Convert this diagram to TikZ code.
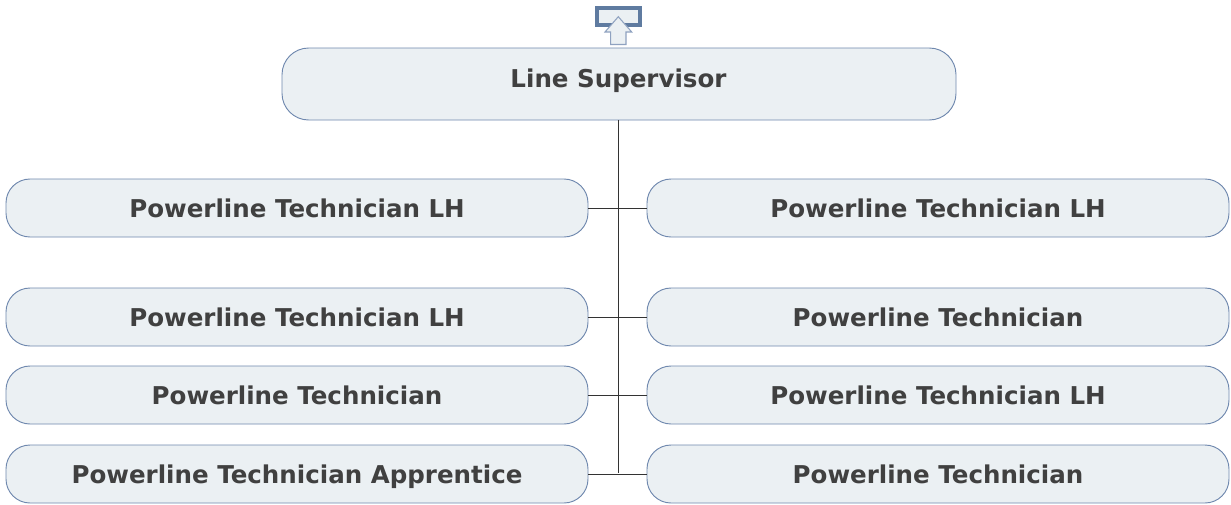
\documentclass[tikz,border=0pt]{standalone}
\usepackage{fontspec}
\setmainfont{DejaVu Sans}
\usetikzlibrary{positioning}
\definecolor{boxfill}{HTML}{EBF0F3}
\definecolor{boxline}{HTML}{6F88AE}
\definecolor{iconline}{HTML}{5F7BA0}
\definecolor{arrowline}{HTML}{8FA2C0}
\definecolor{labeltext}{HTML}{404040}
\tikzset{
  rolebox/.style={draw=boxline, fill=boxfill, line width=0.7pt, rounded corners=18pt,
    minimum width=436.5pt, minimum height=43.5pt, inner sep=0pt, text=labeltext,
    text height=15.5pt, text depth=1.5pt,
    font=\fontsize{18.4}{20}\selectfont\bfseries},
  link/.style={draw=black!80, line width=0.6pt}
}
\begin{document}
\begin{tikzpicture}[x=0.75pt,y=-0.75pt]
\useasboundingbox (0,0) rectangle (1231,504);

% marker above the top box
\draw[iconline, line width=2.7pt, fill=boxfill] (597,8) rectangle (640,25);
\draw[arrowline, line width=0.8pt, fill=boxfill] (618.3,16.7) -- (631.7,32) -- (626,32) -- (626,44.5)
  -- (610.7,44.5) -- (610.7,32) -- (605,32) -- cycle;

% top box
\node[rolebox, minimum width=505.5pt, minimum height=54pt, rounded corners=20pt] (super) at (619,84) {};
\node[font=\fontsize{18.4}{20}\selectfont\bfseries, text=labeltext, inner sep=0pt] (superlabel) at (618.5,81) {Line Supervisor};

% left column
\node[rolebox] (leftA) at (297,208) {Powerline Technician LH};
\node[rolebox] (leftB) at (297,317) {Powerline Technician LH};
\node[rolebox] (leftC) at (297,395) {Powerline Technician};
\node[rolebox] (leftD) at (297,474) {Powerline Technician Apprentice};

% right column
\node[rolebox] (rightA) at (938,208) {Powerline Technician LH};
\node[rolebox] (rightB) at (938,317) {Powerline Technician};
\node[rolebox] (rightC) at (938,395) {Powerline Technician LH};
\node[rolebox] (rightD) at (938,474) {Powerline Technician};

% connectors
\coordinate (trunk) at (618,473);
\draw[link] (super.south -| trunk) -- (trunk);
\foreach \l/\r in {leftA/rightA,leftB/rightB,leftC/rightC,leftD/rightD}
\draw[link] (\l.east) -- (\r.west);
\end{tikzpicture}
\end{document}
